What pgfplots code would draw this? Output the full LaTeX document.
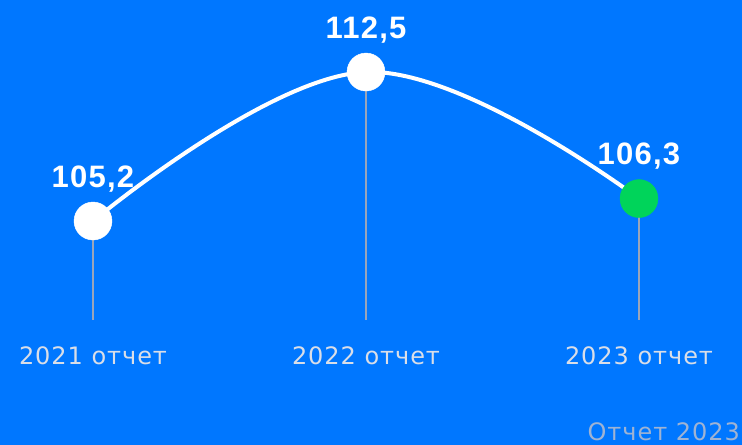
\documentclass[border=0pt]{standalone}
\usepackage{pgfplots}
\pgfplotsset{compat=1.18}
\usepackage{fontspec}
\setmainfont{Liberation Sans}
\newfontfamily\tickfont[LetterSpace=4]{DejaVu Sans}
\newfontfamily\valfont[LetterSpace=4]{Liberation Sans}
\definecolor{bg}{HTML}{0077FF}
\definecolor{grn}{HTML}{00D45A}
\definecolor{stem}{HTML}{9AA5BA}
\definecolor{ticktxt}{HTML}{D9DEE8}
\definecolor{note}{HTML}{9FB3D3}
\begin{document}
\begin{tikzpicture}
\path[use as bounding box] (0,0) rectangle (742bp,445bp);
\clip (0,0) rectangle (742bp,445bp);
\fill[bg] (0,0) rectangle (742bp,445bp);
\begin{axis}[
  at={(93bp,125bp)}, anchor=south west,
  scale only axis, width=546bp, height=300bp,
  xmin=0, xmax=2, ymin=100.35, ymax=115.05,
  clip=false,
  axis line style={draw=none},
  major tick length=0pt,
  xtick={0,1,2},
  xticklabels={2021 отчет,2022 отчет,2023 отчет},
  xticklabel style={anchor=center, yshift=-36bp, text=ticktxt, font=\tickfont\fontsize{24bp}{28bp}\selectfont},
  ytick=\empty,
]
\addplot[stem, line width=1.5bp] coordinates {(0,100.35) (0,105.2)};
\addplot[stem, line width=1.5bp] coordinates {(1,100.35) (1,112.5)};
\addplot[stem, line width=1.5bp] coordinates {(2,100.35) (2,106.3)};
\addplot[white, line width=4bp, smooth, tension=0.65] coordinates {(0,105.2) (1,112.5) (2,106.3)};
\addplot[white, only marks, mark=*, mark size=19bp, mark options={fill=white, draw=white}] coordinates {(0,105.2) (1,112.5)};
\addplot[grn, only marks, mark=*, mark size=19bp, mark options={fill=grn, draw=grn}] coordinates {(2,106.3)};
\addplot[only marks, mark=none, point meta=explicit symbolic,
  nodes near coords, nodes near coords style={anchor=center, yshift=42bp, text=white, font=\valfont\bfseries\fontsize{31bp}{35bp}\selectfont}]
  coordinates {(0,105.2)[105,2] (1,112.5)[112,5] (2,106.3)[106,3]};
\end{axis}
\node[anchor=base east, inner sep=0pt, text=note, font=\tickfont\fontsize{24bp}{28bp}\selectfont] at (740bp,5bp) {Отчет 2023};
\end{tikzpicture}
\end{document}
